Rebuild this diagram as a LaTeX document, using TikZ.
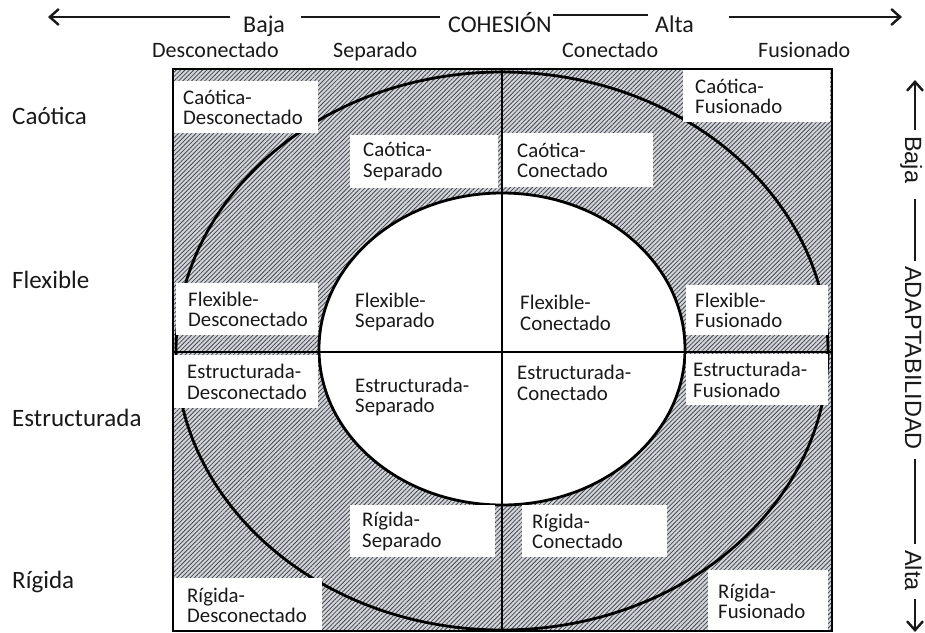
\documentclass[tikz,border=0pt]{standalone}
\usepackage{fontspec}
\setmainfont{Carlito}
\newfontfamily\arialf{Liberation Sans}
\usetikzlibrary{patterns.meta,arrows.meta,calc}
\definecolor{hatchbg}{RGB}{210,213,217}
\definecolor{hatchfg}{RGB}{68,72,78}
\definecolor{ink}{RGB}{25,25,25}
\newcommand\cellbox[7]{%
  \pgfmathsetmacro\cw{#4-#2}\pgfmathsetmacro\ch{#5-#3}\pgfmathsetmacro\tw{#4-#2-2*#6}%
  \node[cell, inner xsep=#6pt, minimum width=\cw pt, minimum height=\ch pt, text width=\tw pt] (#1) at (#2,#3) {#7};}
\begin{document}
\begin{tikzpicture}[x=1pt,y=-1pt,
  cell/.style={fill=white, inner ysep=0pt, align=left, anchor=north west,
    font=\fontsize{20.8}{20.5}\selectfont, text=ink},
  celltext/.style={inner sep=0pt, align=left, anchor=west,
    font=\fontsize{20.8}{20.5}\selectfont, text=ink},
  ax/.style={inner sep=0pt, anchor=base west, font=\fontsize{24}{24}\selectfont, text=ink},
  colhead/.style={inner sep=0pt, anchor=base west, font=\fontsize{22}{22}\selectfont, text=ink},
  rowhead/.style={inner sep=0pt, anchor=west, font=\fontsize{25}{25}\selectfont, text=ink},
  vax/.style={inner sep=0pt, rotate=-90, anchor=base west, font=\arialf\fontsize{23.5}{23.5}\selectfont, text=ink},
  axisline/.style={line width=2.4pt, draw=ink},
  tipL/.style={{Straight Barb[length=9pt,width=16pt,line width=2.4pt]}-},
  tipR/.style={-{Straight Barb[length=9pt,width=16pt,line width=2.4pt]}},
  ring/.style={line width=2.8pt, draw=black},
  frame/.style={line width=2.2pt, draw=black}
]
\useasboundingbox (0,0) rectangle (925,632);
\fill[white] (0,0) rectangle (925,632);
% hatched field with inner ellipse left white
\fill[hatchbg, even odd rule] (173,69) rectangle (832,631) (502,349) ellipse [x radius=183pt, y radius=156pt];
\fill[pattern={Lines[angle=45,distance=3.1pt,line width=0.8pt]}, pattern color=hatchfg, even odd rule]
  (173,69) rectangle (832,631) (502,349) ellipse [x radius=183pt, y radius=156pt];
% rings
\draw[ring] (502,351) ellipse [x radius=326pt, y radius=279pt];
\draw[ring] (502,349) ellipse [x radius=183pt, y radius=156pt];
% label boxes
\cellbox{cd}{173}{81}{318}{133}{10}{Caótica-\\Desconectado}
\cellbox{cs}{350}{135}{498}{188}{13}{Caótica-\\Separado}
\cellbox{cc}{503}{133}{653}{187}{14}{Caótica-\\Conectado}
\cellbox{cf}{683}{70}{830}{122}{12}{Caótica-\\Fusionado}
\cellbox{fd}{176}{283}{318}{335}{12}{Flexible-\\Desconectado}
\cellbox{ff}{686}{285}{828}{335}{9}{Flexible-\\Fusionado}
\cellbox{ed}{174}{355}{318}{408}{13}{Estructurada-\\Desconectado}
\cellbox{ef}{686}{354}{828}{405}{7}{Estructurada-\\Fusionado}
\cellbox{rs}{350}{505}{495}{557}{12}{Rígida-\\Separado}
\cellbox{rc}{522}{505}{667}{557}{10}{Rígida-\\Conectado}
\cellbox{rd}{174}{578}{322}{632}{13}{Rígida-\\Desconectado}
\cellbox{rf}{708}{570}{828}{632}{10}{Rígida-\\Fusionado}
\node[celltext] (fs) at (355,312) {Flexible-\\Separado};
\node[celltext] (fc) at (520,313) {Flexible-\\Conectado};
\node[celltext] (es) at (355,397) {Estructurada-\\Separado};
\node[celltext] (ec) at (517,383) {Estructurada-\\Conectado};
% frame and axes of the grid
\draw[frame] (173,69) rectangle (832,631);
\coordinate (vt) at (502,69); \coordinate (vb) at (502,631);
\coordinate (hl) at (173,352); \coordinate (hr) at (832,352);
\draw[frame] (vt) -- (vb);
\draw[frame] (hl) -- (hr);
% top axis
\node[ax] (baja) at (243,32) {Baja};
\node[ax] (coh) at (448,32) {COHESIÓN};
\node[ax] (alta) at (655,32) {Alta};
\coordinate (tl) at (48,17);
\coordinate (tr) at (902,17);
\draw[axisline, tipL] (tl) -- ($(baja.west |- tl)+(-13,0)$);
\draw[axisline] ($(baja.east |- tl)+(16,0)$) -- ($(coh.west |- tl)+(-8,0)$);
\draw[axisline] ($(coh.east |- tl)+(1,-2)$) -- ($(alta.west |- tl)+(-7,-2)$);
\draw[axisline, tipR] ($(alta.east |- tl)+(35,0)$) -- (tr);
% column heads
\node[colhead] (h1) at (152,57) {Desconectado};
\node[colhead] (h2) at (333,57) {Separado};
\node[colhead] (h3) at (562,57) {Conectado};
\node[colhead] (h4) at (758,57) {Fusionado};
% row heads
\node[rowhead] (r1) at (12,116) {Caótica};
\node[rowhead] (r2) at (12,280) {Flexible};
\node[rowhead] (r3) at (12,418) {Estructurada};
\node[rowhead] (r4) at (12,582) {Rígida};
% right axis
\node[vax] (vbaja) at (905,136) {Baja};
\node[vax] (vadap) at (905,266) {ADAPTABILIDAD};
\node[vax] (valta) at (905,550) {Alta};
\coordinate (rt) at (915,80);
\coordinate (rb) at (915,632);
\draw[axisline, tipL] (rt) -- ($(vbaja.west -| rt)+(0,-6)$);
\draw[axisline] ($(vbaja.east -| rt)+(0,16)$) -- ($(vadap.west -| rt)+(0,-5)$);
\draw[axisline] ($(vadap.east -| rt)+(0,9)$) -- ($(valta.west -| rt)+(0,-6)$);
\draw[axisline, tipR] ($(valta.east -| rt)+(0,8)$) -- (rb);
\end{tikzpicture}
\end{document}
